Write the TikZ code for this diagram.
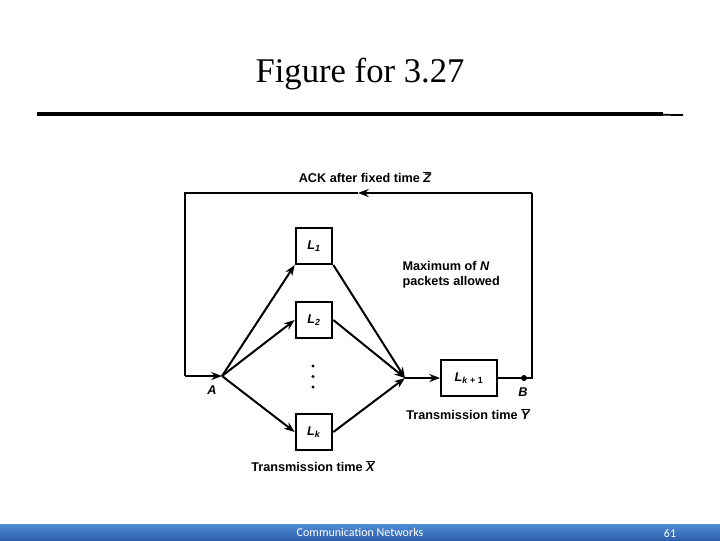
\documentclass[tikz,border=0pt]{standalone}
\usepackage{fontspec}
\setmainfont{Liberation Serif}
\newfontfamily\diagfont{Liberation Sans}
\newfontfamily\footfont{Carlito}
\usepackage{xcolor}
\usepackage{tikz}
\usetikzlibrary{arrows.meta}
\definecolor{bartop}{RGB}{80,140,215}
\definecolor{barbot}{RGB}{45,95,170}

\begin{document}
\begin{tikzpicture}[x=0.75pt, y=-0.75pt, font=\diagfont\bfseries\fontsize{9.5}{11.5}\selectfont]
        \tikzset{
            blk/.style={draw, line width=1.5pt, inner sep=0pt, minimum width=27.5pt, minimum height=27pt},
            wire/.style={line width=1.5pt},
            arr/.style={wire, -{Stealth[length=8pt, width=6pt]}},
            lbl/.style={inner sep=1pt}
        }
        \useasboundingbox (0,0) rectangle (720,540);
        % title and rule
        \node[font=\rmfamily\fontsize{26}{30}\selectfont, anchor=base] (title) at (360,82) {Figure for 3.27};
        \coordinate (rulel) at (37,114);
        \coordinate (ruler) at (663,114);
        \coordinate (rulee) at (683,115);
        \draw[line width=3pt] (rulel) -- (ruler);
        \draw[line width=1.3pt] ([yshift=-0.6pt]ruler) -- (rulee);
        % diagram
        \coordinate (a) at (222,376);
        \coordinate (j) at (405,378);
        \coordinate (tl) at (185,193);
        \coordinate (tr) at (532,193);
        \coordinate (bl) at (185,376);
        \coordinate (br) at (532,378);
        \coordinate (ackmid) at (358,193);
        \node[blk] (l1) at (314,246) {\textit{L}\textsubscript{\textit{1}}};
        \node[blk] (l2) at (314,320) {\textit{L}\textsubscript{\textit{2}}};
        \node[blk] (lk) at (314,432) {\textit{L}\textsubscript{\textit{k}}};
        \node[blk, minimum width=42pt] (lk1) at (469,378) {\textit{L}\textsubscript{\textit{k} + 1}};
        \node[circle, fill, inner sep=0pt, minimum size=4.5pt] (b) at (524,378) {};
        \foreach \y in {366,376.5,387}
            \fill (313,\y) circle (1.3pt);
        \draw[arr] (a) -- (l1.south west);
        \draw[arr] (a) -- (l2.west);
        \draw[arr] (a) -- (lk.west);
        \draw[arr] (l1.south east) -- (j);
        \draw[arr] (l2.east) -- (j);
        \draw[arr] (lk.east) -- (j);
        \draw[arr] (j) -- (lk1.west);
        \draw[wire] (lk1.east) -- (b.center) -- (br) -- (tr);
        \draw[arr] (tr) -- (ackmid);
        \draw[wire] (ackmid) -- (tl) -- (bl);
        \draw[arr] (bl) -- (a);
        \node[lbl] (ack) at (365,177) {ACK after fixed time $\overline{\textit{Z}}$};
        \node[lbl, anchor=west, align=left] (maxn) at (401,275) {Maximum of \textit{N}\\packets allowed};
        \node[lbl] (alab) at (212,390) {\textit{A}};
        \node[lbl] (blab) at (523,392) {\textit{B}};
        \node[lbl] (ylab) at (468,414) {Transmission time $\overline{\textit{Y}}$};
        \node[lbl] (xlab) at (313,466) {Transmission time $\overline{\textit{X}}$};
        % footer
        \shade[top color=bartop, bottom color=barbot] (0,524) rectangle (720,540);
        \node[font=\footfont\fontsize{9}{10}\selectfont, text=white] (foot) at (360,532.5) {Communication Networks};
        \node[font=\footfont\fontsize{9}{10}\selectfont, text=white] (page) at (670,533) {61};
    \end{tikzpicture}
\end{document}
